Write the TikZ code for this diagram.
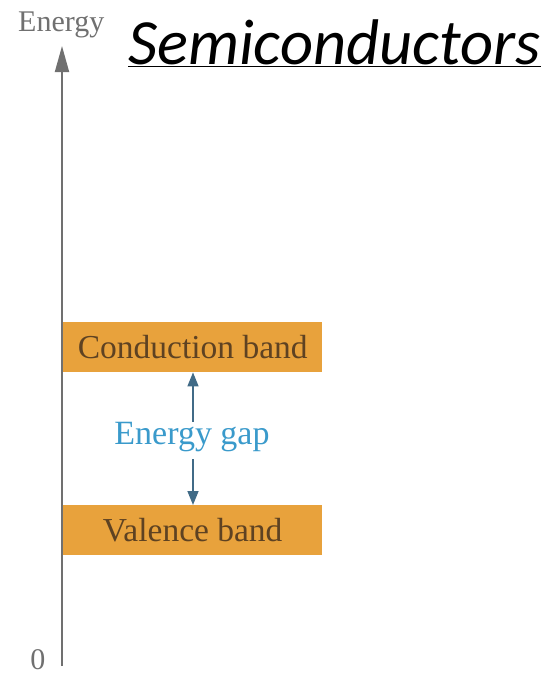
\documentclass[tikz,border=0pt]{standalone}
\usepackage{fontspec}
\setmainfont{Liberation Serif}
\newfontfamily\titlefont{Carlito}
\usetikzlibrary{arrows.meta}
\definecolor{axisgray}{HTML}{707070}
\definecolor{bandorange}{HTML}{E8A23C}
\definecolor{bandtext}{HTML}{5E4222}
\definecolor{gapblue}{HTML}{3A9ACB}
\definecolor{gaparrow}{HTML}{416B87}
\tikzset{
  band/.style={fill=bandorange, draw=none, minimum width=259pt, minimum height=50pt, inner sep=0pt, anchor=north west, text=bandtext, font=\fontsize{33.5}{33.5}\selectfont},
  axislabel/.style={text=axisgray, font=\fontsize{30}{30}\selectfont, inner sep=0pt},
  gaparr/.style={draw=gaparrow, line width=1.5pt, -{Triangle[length=14pt,width=11pt]}}
}
\begin{document}
\begin{tikzpicture}[x=1pt,y=-1pt]
\useasboundingbox (0,0) rectangle (545,675);
% bands
\node[band] (cb) at (63,322) {Conduction band};
\node[band] (vb) at (63,505) {Valence band};
% axis
\coordinate (ax0) at (62,666);
\coordinate (ax1) at (62,46);
\draw[axisgray, line width=1.8pt, -{Triangle[length=26pt,width=14pt]}] (ax0) -- (ax1);
\node[axislabel, anchor=base west] (elab) at (18,31) {Energy};
\node[axislabel, anchor=base] (zero) at (38,669) {0};
% gap
\node[text=gapblue, font=\fontsize{34}{34}\selectfont, inner sep=0pt] (gap) at (192,437) {Energy gap};
\coordinate (gt) at (193,422);
\coordinate (gb) at (193,459);
\draw[gaparr] (gt) -- (cb.south -| gt);
\draw[gaparr] (gb) -- (vb.north -| gb);
% title
\node[anchor=base west, inner sep=0pt] (title) at (128,64)
  {\titlefont\itshape\fontsize{64.5}{64.5}\selectfont\underline{Semiconductors}};
\end{tikzpicture}
\end{document}
